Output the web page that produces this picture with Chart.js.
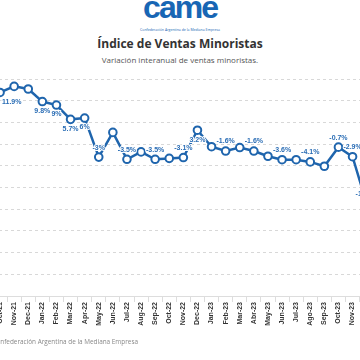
<!DOCTYPE html>
<html>
<head>
<meta charset="utf-8">
<script src="https://cdn.jsdelivr.net/npm/chart.js@4/dist/chart.umd.min.js"></script>
<style>
    html, body { margin: 0; padding: 0; background: #fff; }
    body { width: 360px; height: 360px; overflow: hidden; position: relative; font-family: "Open Sans", "Noto Sans", sans-serif; }
    #logo { position: absolute; left: 0; width: 360px; top: -11px; text-align: center; font-family: "Liberation Sans", Arial, sans-serif; font-weight: bold; font-size: 32px; letter-spacing: -2px; color: #1866b4; }
    #logo-sub { position: absolute; left: 0; width: 360px; top: 27px; text-align: center; font-size: 3.5px; color: #1866b4; white-space: nowrap; }
    #title { position: absolute; left: 0; width: 360px; top: 35px; text-align: center; font-size: 12px; font-weight: bold; color: #333; }
    #subtitle { position: absolute; left: 0; width: 360px; top: 54px; text-align: center; font-size: 8px; color: #555; }
    #footer { position: absolute; right: 222px; top: 337px; font-size: 6.4px; color: #888; white-space: nowrap; }
    #chart-wrap { position: absolute; left: -40px; top: 0; width: 420px; height: 360px; }
</style>
</head>
<body>
<div id="logo">came</div>
<div id="logo-sub">Confederación Argentina de la Mediana Empresa</div>
<div id="title">Índice de Ventas Minoristas</div>
<div id="subtitle">Variación interanual de ventas minoristas.</div>
<div id="chart-wrap"><canvas id="chart"></canvas></div>
<div id="footer">Confederación Argentina de la Mediana Empresa</div>
<script>
// Months (x axis)
const months = ['Oct-21', 'Nov-21', 'Dec-21', 'Jan-22', 'Feb-22', 'Mar-22', 'Apr-22', 'May-22', 'Jun-22',
    'Jul-22', 'Aug-22', 'Sep-22', 'Oct-22', 'Nov-22', 'Dec-22', 'Jan-23', 'Feb-23', 'Mar-23', 'Abr-23',
    'May-23', 'Jun-23', 'Jul-23', 'Ago-23', 'Sep-23', 'Oct-23', 'Nov-23', 'Dec-23'];

// Year-on-year variation (%)
const variation = [11.9, 13.3, 12.7, 9.8, 9, 5.7, 6, -3, 2.7,
    -3.5, -1.8, -3.5, -3.3, -3.1, 3.2, -0.6, -1.6, -0.8, -1.6,
    -2.8, -3.6, -3.6, -4.1, -5.1, -0.7, -2.9, -13.7];

// Months that carry a value label
const labeledMonths = ['Oct-21', 'Jan-22', 'Feb-22', 'Mar-22', 'Apr-22', 'May-22', 'Jul-22', 'Sep-22',
    'Nov-22', 'Dec-22', 'Feb-23', 'Abr-23', 'Jun-23', 'Ago-23', 'Oct-23', 'Nov-23', 'Dec-23'];

// Y axis range
const yMin = -35;
const yMax = 15;
const yStep = 5;

const blue = '#1f65ad';

// Value labels: below the point when positive, above when negative
const valueLabels = {
    id: 'valueLabels',
    afterDatasetsDraw(chart) {
        const ctx = chart.ctx;
        const meta = chart.getDatasetMeta(0);
        ctx.save();
        ctx.font = 'bold 7px "Liberation Sans", Arial, sans-serif';
        ctx.fillStyle = '#2a6db5';
        ctx.strokeStyle = '#fff';
        ctx.lineWidth = 2;
        ctx.lineJoin = 'round';
        ctx.textBaseline = 'middle';
        ctx.textAlign = 'center';
        meta.data.forEach((pt, i) => {
            if (!labeledMonths.includes(months[i])) return;
            const v = variation[i];
            const text = String(v) + '%';
            const w = ctx.measureText(text).width;
            const x = Math.max(pt.x, chart.chartArea.left + w / 2 + 9);
            const y = v >= 0 ? pt.y + 9.5 : pt.y - 9.5;
            ctx.strokeText(text, x, y);
            ctx.fillText(text, x, y);
        });
        ctx.restore();
    }
};

new Chart(document.getElementById('chart'), {
    type: 'line',
    data: {
        labels: months,
        datasets: [{
            data: variation,
            borderColor: blue,
            borderWidth: 2.5,
            pointRadius: 3.8,
            pointBorderWidth: 2,
            pointBackgroundColor: '#fff',
            pointBorderColor: blue,
            tension: 0
        }]
    },
    options: {
        responsive: true,
        maintainAspectRatio: false,
        animation: false,
        layout: { padding: { top: 79, left: 33, right: 6.3, bottom: 0 } },
        plugins: { legend: { display: false }, tooltip: { enabled: false } },
        scales: {
            x: {
                offset: true,
                grid: { offset: true, drawOnChartArea: false, tickLength: 6, color: '#ddd' },
                border: { display: true, color: '#ddd' },
                ticks: {
                    autoSkip: false, minRotation: 90, maxRotation: 90, padding: 0,
                    color: '#333', font: { family: '"Liberation Sans", Arial, sans-serif', size: 7, weight: 'bold' }
                },
                afterFit(scale) { scale.height = 64; }
            },
            y: {
                min: yMin,
                max: yMax,
                ticks: { display: false, stepSize: yStep },
                border: { display: false, dash: [3, 3] },
                grid: { drawTicks: false, color: '#d8d8d8', lineWidth: 1 },
                afterFit(scale) { scale.width = 0; }
            }
        }
    },
    plugins: [valueLabels]
});
</script>
</body>
</html>
